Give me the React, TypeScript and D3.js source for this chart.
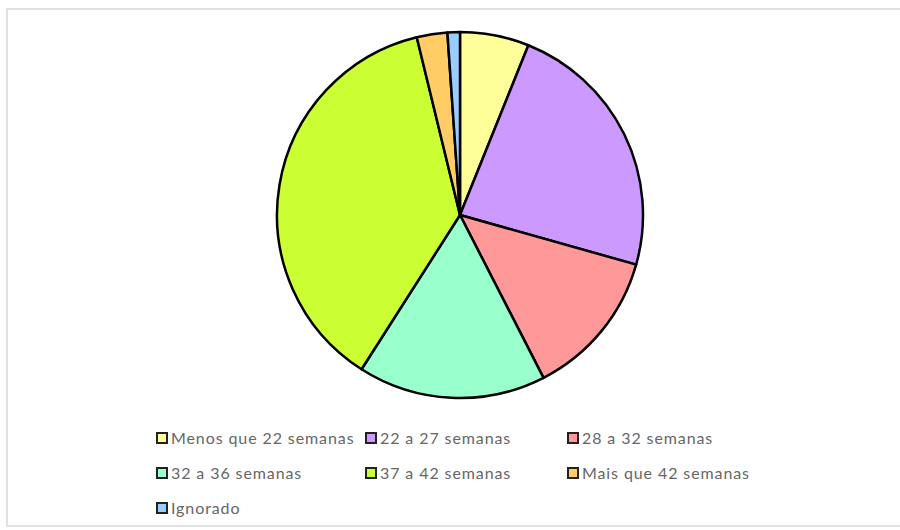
import { pie, arc } from "d3";

const categories = [
  "Menos que 22 semanas",
  "22 a 27 semanas",
  "28 a 32 semanas",
  "32 a 36 semanas",
  "37 a 42 semanas",
  "Mais que 42 semanas",
  "Ignorado",
];
const values = [6.1, 23.3, 13.1, 16.6, 37.2, 2.7, 1.1];
const colors = ["#FFFF99", "#CC99FF", "#FF9999", "#99FFCC", "#CCFF33", "#FFCC66", "#99CCFF"];

// legend grid: 3 columns
const legendCols = [157, 366, 568];
const legendRows = [438, 473, 508];

export default function App() {
  const cx = 460;
  const cy = 215;
  const r = 183;

  const arcs = pie<number>().sort(null).value((d) => d)(values);
  const arcGen = arc<any>().innerRadius(0).outerRadius(r);

  return (
    <svg width={900} height={530} style={{ position: "absolute", left: 0, top: 0 }}>
      <rect x={0} y={0} width={900} height={530} fill="#fff" />
      <rect x={7} y={9} width={900} height={517} fill="#fff" stroke="#d9d9d9" strokeWidth={1.5} />
      <g transform={`translate(${cx},${cy})`}>
        {arcs.map((a, i) => (
          <path key={i} d={arcGen(a) ?? ""} fill={colors[i]} stroke="#000" strokeWidth={2.5} strokeLinejoin="round" />
        ))}
      </g>
      <g fontFamily="Lato, sans-serif" fontSize={16} fill="#666" letterSpacing={0.9}>
        {categories.map((c, i) => {
          const x = legendCols[i % 3];
          const y = legendRows[Math.floor(i / 3)];
          return (
            <g key={c} transform={`translate(${x},${y})`}>
              <rect x={0} y={-5} width={10} height={10} fill={colors[i]} stroke="#222" strokeWidth={2} />
              <text x={14} y={0} dy="0.35em">
                {c}
              </text>
            </g>
          );
        })}
      </g>
    </svg>
  );
}
